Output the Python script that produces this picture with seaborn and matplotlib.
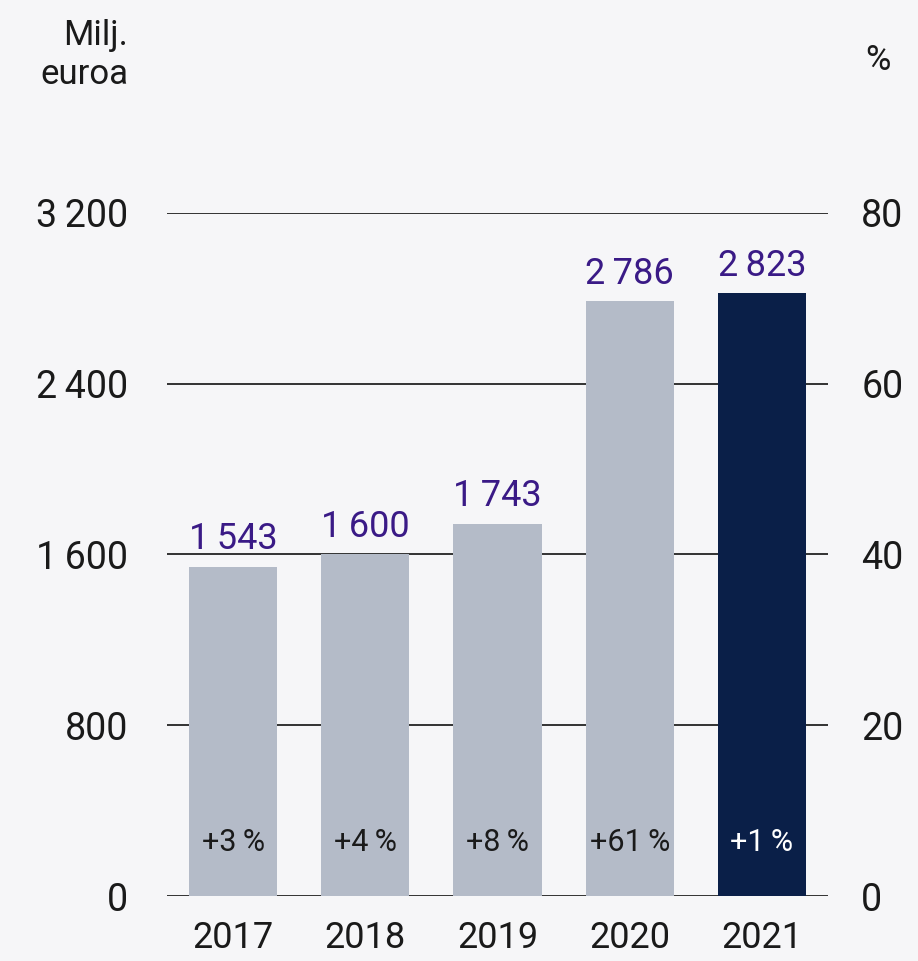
import matplotlib
matplotlib.use("Agg")
import matplotlib.pyplot as plt
import seaborn as sns
import pandas as pd

# chart values
years = ["2017", "2018", "2019", "2020", "2021"]
values = [1543, 1600, 1743, 2786, 2823]
value_labels = ["1\u2009543", "1\u2009600", "1\u2009743", "2\u2009786", "2\u2009823"]
change_labels = ["+3\u2009%", "+4\u2009%", "+8\u2009%", "+61\u2009%", "+1\u2009%"]
left_ticks = [0, 800, 1600, 2400, 3200]
left_tick_labels = ["0", "800", "1\u2009600", "2\u2009400", "3\u2009200"]
right_ticks = [0, 20, 40, 60, 80]

bg = "#f6f6f8"
bar_grey = "#b4bbc8"
navy = "#0a1f48"
purple = "#3a1a86"
ink = "#1a1a1a"

sns.set_theme(style="white")
plt.rcParams["font.family"] = ["Roboto", "DejaVu Sans"]

df = pd.DataFrame({"year": years, "value": values})
colors = [bar_grey] * 4 + [navy]

fig = plt.figure(figsize=(9.18, 9.61), dpi=100, facecolor=bg)
ax = fig.add_axes([0.1819, 0.0676, 0.902 - 0.1819, 0.7784 - 0.0676])
ax.set_facecolor(bg)

sns.barplot(data=df, x="year", y="value", hue="year", palette=colors,
            legend=False, width=0.667, saturation=1, linewidth=0,
            ax=ax, zorder=3)

ax.set_ylim(0, 3200)
ax.set_xlim(-0.5, 4.5)
ax.set_yticks(left_ticks)
ax.set_yticklabels(left_tick_labels)
for t in left_ticks:
    ax.axhline(t, color="#111111", lw=1.2, zorder=1)
for s in ax.spines.values():
    s.set_visible(False)
ax.set_xlabel("")
ax.set_ylabel("")
ax.tick_params(axis="y", length=0, pad=28, labelsize=27, labelcolor=ink)
ax.tick_params(axis="x", length=0, pad=17, labelsize=26, labelcolor=ink)

for i, (v, lab, ch) in enumerate(zip(values, value_labels, change_labels)):
    ax.annotate(lab, (i, v), xytext=(0, 7), textcoords="offset points",
                ha="center", va="bottom", fontsize=26, color=purple, zorder=5)
    ax.text(i, 253, ch, ha="center", va="center", fontsize=22,
            color="white" if i == 4 else ink, zorder=5)

ax2 = ax.twinx()
ax2.set_ylim(0, 80)
ax2.set_yticks(right_ticks)
for s in ax2.spines.values():
    s.set_visible(False)
ax2.tick_params(axis="y", length=0, pad=24, labelsize=27, labelcolor=ink)
ax2.grid(False)

fig.text(128 / 918, 1 - 19 / 961, "Milj.\neuroa", ha="right", va="top",
         fontsize=25, color=ink, linespacing=1.25)
fig.text(878 / 918, 1 - 60 / 961, "%", ha="center", va="center",
         fontsize=25, color=ink)

fig.savefig("out.png", dpi=100, facecolor=bg)
